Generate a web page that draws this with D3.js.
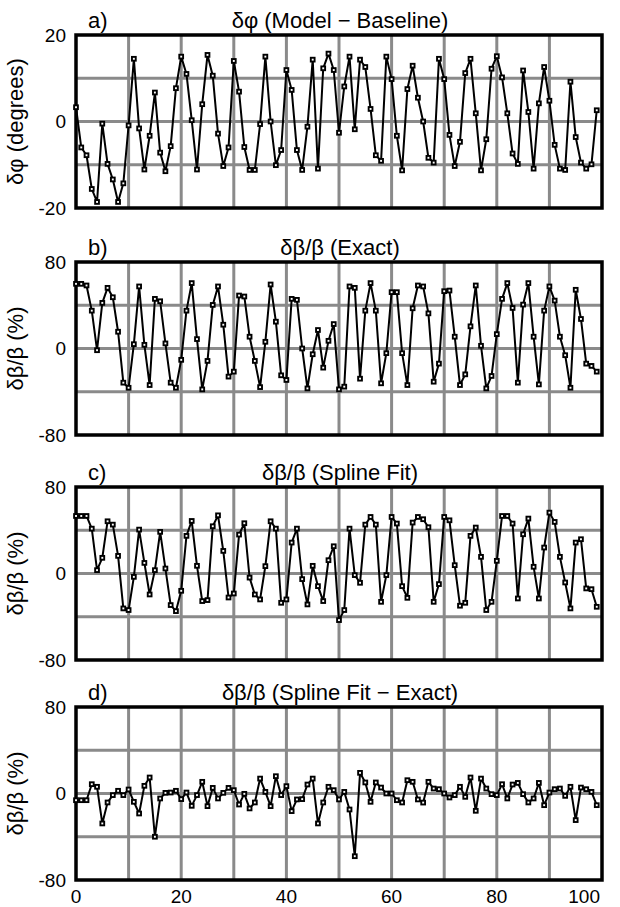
<!DOCTYPE html>
<html>
<head>
<meta charset="utf-8">
<script src="https://cdn.jsdelivr.net/npm/d3@7"></script>
<style>
	body { margin: 0; background: #fff; }
	svg text { font-family: "Liberation Sans", Arial, Helvetica, sans-serif; fill: #000; }
</style>
</head>
<body>
<script>
// one value per turn (0..99)
var phiDiff = [3.3, -6.0, -7.8, -15.6, -18.6, -0.5, -9.8, -13.4, -18.6, -14.3,
	-0.9, 14.5, -1.6, -11.1, -3.3, 6.7, -7.2, -11.5, -5.7, 7.7,
	15.0, 11.0, 0.3, -11.1, 4.0, 15.4, 10.6, -2.8, -10.3, -6.0,
	14.0, 6.9, -5.9, -11.2, -11.2, -0.6, 15.0, 0, -10.1, -6.6,
	11.9, 7.3, -6.6, -11.2, -1.2, 14.3, -10.9, 12.3, 15.7, 11.9,
	-2.6, 8.1, 15.0, -1.8, 14.3, 12.6, 2.9, -7.8, -9.1, 15.0,
	9.8, -3.3, -11.3, 7.5, 12.9, 5.5, 0, -8.4, -9.5, 14.5,
	9.8, -3.1, -10.3, -4.7, 11.2, 14.5, 1.9, -11.3, -4.1, 12.2,
	15.1, 10.2, 1.9, -7.4, -9.8, 11.8, 2.2, -10.9, 4.2, 12.6,
	4.8, -5.4, -10.9, -11.2, 9.2, -3.6, -9.5, -10.9, -9.9, 2.6];

var betaExact = [59.8, 59.8, 58.3, 35.0, -1.6, 42.2, 56.1, 47.4, 15.5, -31.6,
	-36.3, 4.0, 57.4, 3.4, -33.8, 45.9, 43.7, 4.7, -31.6, -36.3,
	-10.5, 35.0, 60.5, 8.7, -37.8, -11.5, 40.3, 57.4, 22.0, -26.0,
	-21.4, 49.0, 48.1, 10.9, -11.5, -35.7, 6.2, 59.2, 24.8, -24.8,
	-29.1, 45.9, 45.0, 0, -36.9, -5.3, 17.1, -17.7, 7.1, 22.6,
	-37.8, -35.3, 57.4, 56.1, -27.9, 35.0, 60.5, 35.0, -32.2, -4.3,
	52.1, 52.1, -4.3, -33.8, 37.2, 58.3, 57.4, 32.5, -30.7, -14.0,
	53.0, 53.6, 10.9, -33.8, -23.9, 20.5, 58.3, 2.5, -36.9, -25.4,
	13.3, 45.9, 60.5, 37.5, -31.6, 40.6, 60.5, 10.9, -33.2, 35.0,
	57.4, 44.3, 10.9, -6.2, -36.3, 54.3, 27.3, -14.0, -16.1, -21.4];

var betaSpline = [53.2, 53.2, 53.2, 41.5, 3.1, 14.5, 48.3, 45.2, 16.3, -32.3,
	-33.8, -3.1, 40.6, 9.8, -19.4, 3.1, 38.5, 4.6, -29.2, -34.8,
	-16.0, 34.8, 48.6, 7.1, -25.5, -24.6, 43.7, 53.8, 20.9, -22.2,
	-18.5, 36.0, 46.5, -3.8, -19.4, -24.0, 6.8, 48.3, 41.5, -27.1,
	-24.0, 28.6, 41.5, -5.2, -28.6, 7.1, -11.7, -25.5, 12.3, 25.2,
	-43.1, -33.8, 41.5, -1.5, -8.6, 45.2, 52.3, 45.2, -26.2, -1.5,
	52.3, 46.2, -11.7, -22.5, 47.1, 52.3, 50.2, 42.8, -26.2, -9.8,
	52.3, 49.2, 7.7, -29.8, -27.1, 34.8, 42.5, 15.4, -33.8, -26.2,
	11.7, 53.2, 53.2, 46.2, -23.1, 36.3, 50.8, 6.2, -23.1, 24.0,
	56.3, 47.7, 15.4, -8.3, -32.3, 28.6, 31.7, -13.8, -14.5, -30.8];

var betaDiff = [-6.2, -6.2, -6.2, 8.6, 6.2, -27.7, -8.3, -1.5, 2.5, -1.5,
	3.7, -7.7, -18.5, 7.1, 14.8, -40.0, -4.6, 0.6, 0.9, 2.5,
	-5.2, 0.9, -11.4, -1.5, 10.8, -11.7, 5.2, -4.6, 0.6, 5.2,
	3.1, -10.2, -0.3, -13.8, -8.3, 13.8, 1.5, -11.7, 16.0, -1.5,
	6.8, -16.3, -5.5, -5.2, 8.3, 13.8, -27.7, -8.3, 6.2, 3.1,
	-5.5, 1.5, -14.8, -58.0, 19.1, 10.2, -7.7, 10.2, 5.5, 0,
	0, -6.2, -8.3, 12.3, 10.8, -5.5, -8.4, 10.8, 4.6, 4.0,
	0, -3.7, -1.5, 6.2, -3.1, 14.8, -16.0, 13.8, 4.6, -0.6,
	-1.5, 8.6, -4.6, 8.3, 9.8, -0.6, -8.3, -4.6, 9.8, -10.8,
	0.9, 4.0, 4.6, -2.2, 6.2, -24.6, 5.5, 4.0, 1.5, -10.8];

var xTicks = [0, 20, 40, 60, 80, 100];
var xGrid = [10, 20, 30, 40, 50, 60, 70, 80, 90];
var phiTicks = [-20, 0, 20];
var phiGrid = [-10, 0, 10];
var betaTicks = [-80, 0, 80];
var betaGrid = [-40, 0, 40];

var width = 620,
	height = 907,
	left = 76,
	right = 602,
	panelH = 173;

var panels = [
	{ tag: "a)", title: "δφ (Model − Baseline)", ylabel: "δφ (degrees)", values: phiDiff,
		domain: [-20, 20], ticks: phiTicks, grid: phiGrid, top: 35 },
	{ tag: "b)", title: "δβ/β (Exact)", ylabel: "δβ/β (%)", values: betaExact,
		domain: [-80, 80], ticks: betaTicks, grid: betaGrid, top: 262 },
	{ tag: "c)", title: "δβ/β (Spline Fit)", ylabel: "δβ/β (%)", values: betaSpline,
		domain: [-80, 80], ticks: betaTicks, grid: betaGrid, top: 487 },
	{ tag: "d)", title: "δβ/β (Spline Fit − Exact)", ylabel: "δβ/β (%)", values: betaDiff,
		domain: [-80, 80], ticks: betaTicks, grid: betaGrid, top: 707 }
];

var svg = d3.select("body")
	.append("svg")
	.attr("width", width)
	.attr("height", height);

var x = d3.scaleLinear().domain([0, 100]).range([left, right]);

panels.forEach(function(p) {
	var y = d3.scaleLinear().domain(p.domain).range([p.top + panelH, p.top]);
	var g = svg.append("g");

	// grid
	g.selectAll(".vg").data(xGrid).enter().append("line")
		.attr("x1", d => x(d)).attr("x2", d => x(d))
		.attr("y1", p.top).attr("y2", p.top + panelH)
		.attr("stroke", "#8a8a8a").attr("stroke-width", 3);
	g.selectAll(".hg").data(p.grid).enter().append("line")
		.attr("x1", left).attr("x2", right)
		.attr("y1", d => y(d)).attr("y2", d => y(d))
		.attr("stroke", "#8a8a8a").attr("stroke-width", 3);

	// frame
	g.append("rect")
		.attr("x", left).attr("y", p.top)
		.attr("width", right - left).attr("height", panelH)
		.attr("fill", "none").attr("stroke", "#000").attr("stroke-width", 3.5);

	// y tick labels
	g.selectAll(".yt").data(p.ticks).enter().append("text")
		.attr("x", 66).attr("y", d => y(d))
		.attr("dy", "0.35em")
		.attr("text-anchor", "end")
		.style("font-size", "19px")
		.text(d => d);

	// y axis title
	g.append("text")
		.attr("transform", "translate(23," + y(0) + ") rotate(-90)")
		.attr("text-anchor", "middle")
		.style("font-size", "22px")
		.text(p.ylabel);

	// panel tag and title
	g.append("text")
		.attr("x", 88).attr("y", p.top - 7)
		.style("font-size", "22px")
		.text(p.tag);
	g.append("text")
		.attr("x", 340).attr("y", p.top - 7)
		.attr("text-anchor", "middle")
		.style("font-size", "22px")
		.text(p.title);

	// series
	var line = d3.line()
		.x((d, i) => x(i))
		.y(d => y(d));
	g.append("path")
		.datum(p.values)
		.attr("d", line)
		.attr("fill", "none")
		.attr("stroke", "#000")
		.attr("stroke-width", 2)
		.attr("stroke-linejoin", "round");

	g.selectAll(".pt").data(p.values).enter().append("rect")
		.attr("x", (d, i) => x(i) - 1.9)
		.attr("y", d => y(d) - 1.9)
		.attr("width", 3.8).attr("height", 3.8)
		.attr("fill", "#fff")
		.attr("stroke", "#000")
		.attr("stroke-width", 1.9);
});

// x tick labels under the bottom panel
svg.selectAll(".xt").data(xTicks).enter().append("text")
	.attr("x", d => d === 100 ? x(d) - 2 : x(d))
	.attr("y", 903)
	.attr("text-anchor", d => d === 100 ? "end" : "middle")
	.style("font-size", "19px")
	.text(d => d);
</script>
</body>
</html>
